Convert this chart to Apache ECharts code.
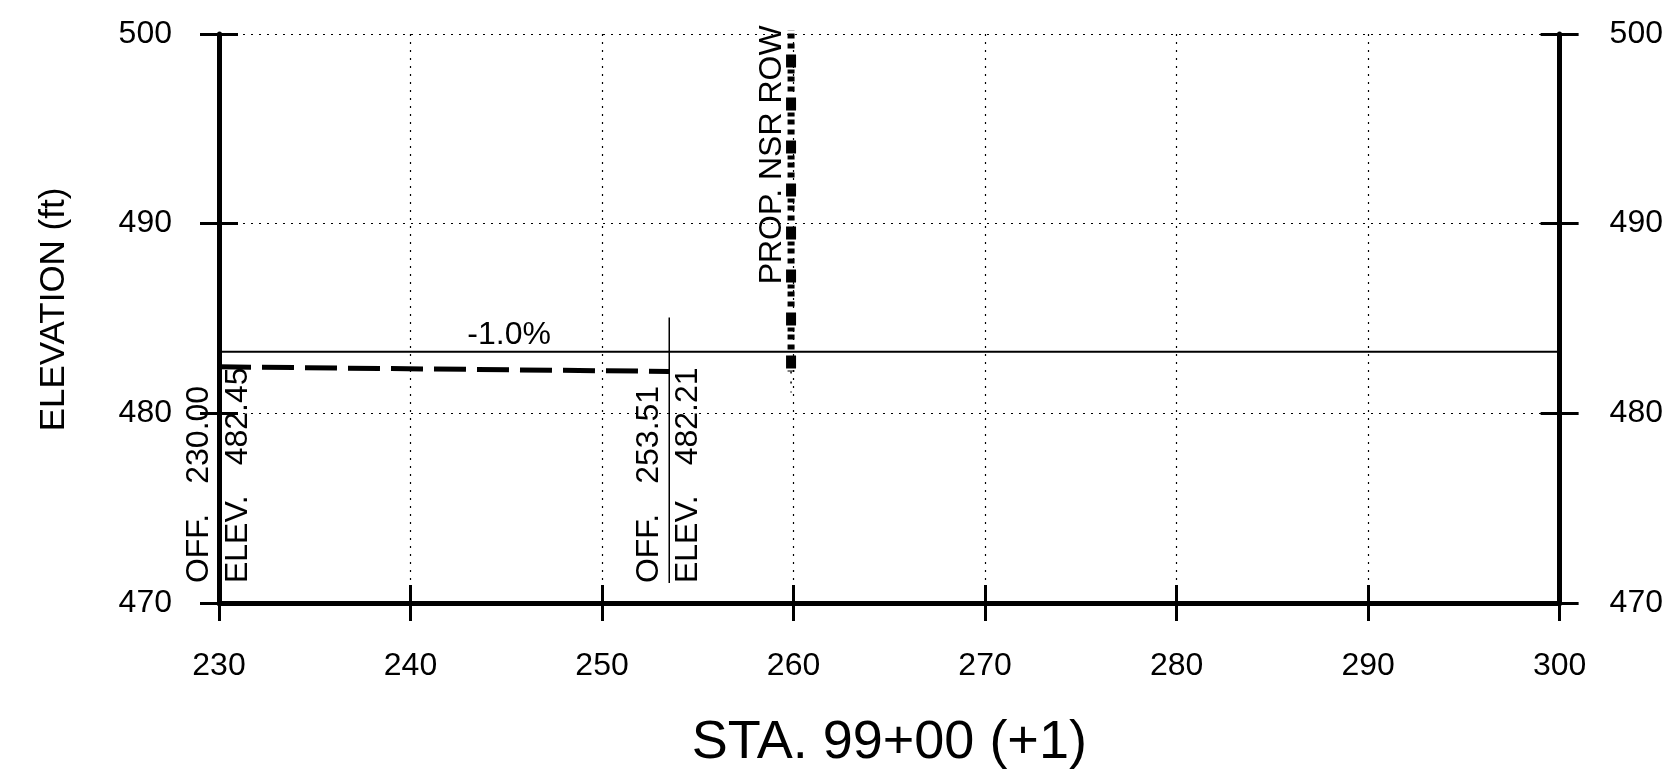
<!DOCTYPE html>
<html>
<head>
<meta charset="utf-8">
<script src="https://cdn.jsdelivr.net/npm/echarts@6/dist/echarts.min.js"></script>
<style>
  html, body { margin: 0; padding: 0; background: #fff; }
  #chart { width: 1666px; height: 775px; }
</style>
</head>
<body>
<div id="chart"></div>
<script>
// ---- data ----
const xMin = 230, xMax = 300, xStep = 10;
const yMin = 470, yMax = 500, yStep = 10;
const xAxisTitle = 'STA. 99+00 (+1)';
const yAxisTitle = 'ELEVATION (ft)';

const gradeStations = [230, 300];
const gradeElevs = [483.25, 483.25];
const gradeText = '-1.0%';
const gradeTextStation = 245.15;

const groundStations = [230, 253.51];
const groundElevs = [482.45, 482.21];

const offsetLineStations = [253.51, 253.51];
const offsetLineElevs = [485.05, 471.05];

const pointStations = [230, 253.51];
const pointOffLabels = ['230.00', '253.51'];
const pointElevLabels = ['482.45', '482.21'];
const pointLabelBaseElev = 471.05;

const rowStations = [259.87, 259.87];
const rowElevs = [500.5, 482.2];
const rowTailElevs = [482.2, 481.1];
const rowText = 'PROP. NSR ROW';
const rowTextElev = 486.8;

// ---- chart ----
const FONT = '"Liberation Sans", Arial, Helvetica, sans-serif';
const chart = echarts.init(document.getElementById('chart'), null, { renderer: 'canvas' });

const mctx = document.createElement('canvas').getContext('2d');
function textW(t, size) { mctx.font = size + 'px ' + FONT; return mctx.measureText(t).width; }

const zip = (a, b) => a.map((v, i) => [v, b[i]]);

const baseX = {
  type: 'value', min: xMin, max: xMax, interval: xStep, position: 'bottom',
  axisLine: { show: true, onZero: false, lineStyle: { color: '#000', width: 5 } },
  splitLine: { show: false }, axisLabel: { show: false }, axisTick: { show: false }
};
const baseY = {
  type: 'value', min: yMin, max: yMax, interval: yStep,
  axisLine: { show: true, onZero: false, lineStyle: { color: '#000', width: 5 } },
  splitLine: { show: false }, axisLabel: { show: false }, axisTick: { show: false }
};
const tickStyle = { color: '#000', width: 3 };
const labelStyle = { color: '#000', fontSize: 32, fontFamily: FONT };
const gridDots = { show: true, lineStyle: { color: '#000', width: 1.2, type: [2, 6] } };

const rotTextStyle = (text, size) => ({ text, fontSize: size, fontFamily: FONT, fill: '#000', align: 'left', verticalAlign: 'middle' });

const option = {
  animation: false,
  backgroundColor: '#fff',
  grid: { left: 219, right: 104, top: 34, bottom: 162, containLabel: false },
  xAxis: [
    Object.assign({}, baseX, {
      name: xAxisTitle, nameLocation: 'middle', nameGap: 113,
      nameTextStyle: { color: '#000', fontSize: 54, fontFamily: FONT },
      axisTick: { show: true, inside: false, length: 18, lineStyle: tickStyle },
      axisLabel: Object.assign({ show: true, margin: 47 }, labelStyle),
      splitLine: gridDots
    }),
    Object.assign({}, baseX, {
      axisLine: { show: false },
      axisTick: { show: true, inside: true, length: 18, lineStyle: tickStyle }
    })
  ],
  yAxis: [
    Object.assign({}, baseY, {
      position: 'left',
      name: yAxisTitle, nameLocation: 'middle', nameGap: 147,
      nameTextStyle: { color: '#000', fontSize: 35, fontFamily: FONT, padding: [0, 0, 0, 18] },
      axisTick: { show: true, inside: false, length: 19, lineStyle: tickStyle },
      axisLabel: Object.assign({ show: true, margin: 47 }, labelStyle),
      splitLine: gridDots
    }),
    Object.assign({}, baseY, {
      position: 'left', axisLine: { show: false },
      axisTick: { show: true, inside: true, length: 19, lineStyle: tickStyle }
    }),
    Object.assign({}, baseY, {
      position: 'right',
      axisTick: { show: true, inside: false, length: 19, lineStyle: tickStyle },
      axisLabel: Object.assign({ show: true, margin: 50 }, labelStyle)
    }),
    Object.assign({}, baseY, {
      position: 'right', axisLine: { show: false },
      axisTick: { show: true, inside: true, length: 19, lineStyle: tickStyle }
    })
  ],
  series: [
    {
      name: 'grade', type: 'line', silent: true, symbol: 'none',
      data: zip(gradeStations, gradeElevs),
      lineStyle: { color: '#000', width: 2 }
    },
    {
      name: 'ground', type: 'line', silent: true, symbol: 'none',
      data: zip(groundStations, groundElevs),
      lineStyle: { color: '#000', width: 5, type: [32, 11] }
    },
    {
      name: 'offsetLine', type: 'line', silent: true, symbol: 'none',
      data: zip(offsetLineStations, offsetLineElevs),
      lineStyle: { color: '#000', width: 1.5 }
    },
    {
      name: 'rowA', type: 'line', silent: true, symbol: 'none',
      data: zip(rowStations, rowElevs),
      lineStyle: { color: '#000', width: 10, type: [13, 30], dashOffset: 13, cap: 'butt' }
    },
    {
      name: 'rowB', type: 'line', silent: true, symbol: 'none',
      data: zip(rowStations, rowElevs),
      lineStyle: { color: '#000', width: 7, type: [4, 3, 5, 5, 5, 21], dashOffset: 41, cap: 'butt' }
    },
    {
      name: 'rowTail', type: 'line', silent: true, symbol: 'none',
      data: zip(rowStations, rowTailElevs),
      lineStyle: { color: '#000', width: 1.5, type: [2, 8], cap: 'butt' }
    },
    {
      name: 'pointLabels', type: 'custom', silent: true,
      data: pointStations.map((s, i) => [s, pointLabelBaseElev, i]),
      renderItem: function (params, api) {
        const p = api.coord([api.value(0), api.value(1)]);
        const i = api.value(2);
        const gap = 30;
        const offShift = textW('OFF.', 32) + gap;
        const elevShift = textW('ELEV.', 32) + gap;
        const xo = p[0] - 20, xe = p[0] + 19;
        return {
          type: 'group',
          children: [
            { type: 'text', x: xo, y: p[1], rotation: Math.PI / 2, style: rotTextStyle('OFF.', 32) },
            { type: 'text', x: xo, y: p[1] - offShift, rotation: Math.PI / 2, style: rotTextStyle(pointOffLabels[i], 32) },
            { type: 'text', x: xe, y: p[1], rotation: Math.PI / 2, style: rotTextStyle('ELEV.', 32) },
            { type: 'text', x: xe, y: p[1] - elevShift, rotation: Math.PI / 2, style: rotTextStyle(pointElevLabels[i], 32) }
          ]
        };
      }
    },
    {
      name: 'gradeLabel', type: 'custom', silent: true,
      data: [[gradeTextStation, gradeElevs[0]]],
      renderItem: function (params, api) {
        const p = api.coord([api.value(0), api.value(1)]);
        return {
          type: 'text', x: p[0], y: p[1] - 17,
          style: { text: gradeText, fontSize: 32, fontFamily: FONT, fill: '#000', align: 'center', verticalAlign: 'middle' }
        };
      }
    },
    {
      name: 'rowLabel', type: 'custom', silent: true,
      data: [[rowStations[0], rowTextElev]],
      renderItem: function (params, api) {
        const p = api.coord([api.value(0), api.value(1)]);
        return {
          type: 'text', x: p[0] - 19, y: p[1], rotation: Math.PI / 2,
          style: rotTextStyle(rowText, 32)
        };
      }
    }
  ]
};
chart.setOption(option);
</script>
</body>
</html>
